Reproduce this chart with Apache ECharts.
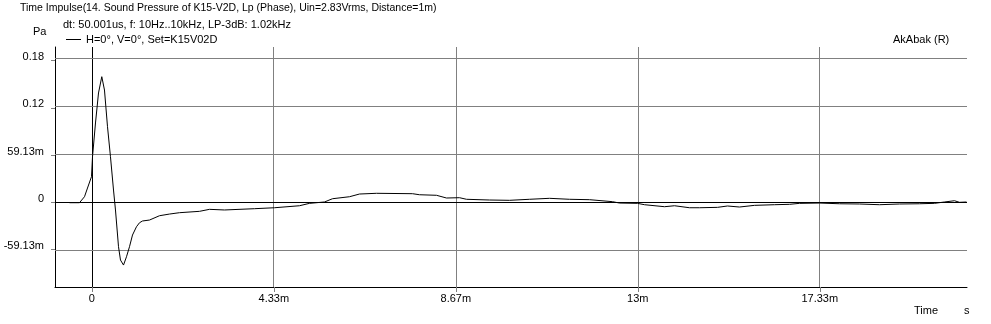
<!DOCTYPE html>
<html>
<head>
<meta charset="utf-8">
<script src="https://cdn.jsdelivr.net/npm/echarts@6/dist/echarts.min.js"></script>
<style>
html,body{margin:0;padding:0;background:#fff;}
#chart{width:991px;height:324px;}
</style>
</head>
<body>
<div id="chart"></div>
<script>
// time in milliseconds
const timeMs = [-0.531,-0.293,-0.174,-0.102,-0.007,0.017,0.088,0.160,0.238,0.262,0.302,0.374,0.445,0.517,0.564,0.636,0.683,0.755,0.826,0.898,0.969,1.064,1.136,1.207,1.374,1.612,1.850,2.088,2.564,2.802,3.160,3.874,4.350,4.945,5.183,5.540,5.731,6.136,6.374,6.779,7.636,7.802,8.207,8.445,8.755,8.921,9.469,9.945,10.421,10.898,11.374,11.850,12.398,12.564,12.993,13.160,13.636,13.874,14.231,14.469,14.898,15.136,15.421,15.779,16.255,16.612,16.850,17.326,17.802,18.279,18.755,19.231,19.707,20.064,20.302,20.540,20.660,20.826];
// sound pressure in Pa
const pressure = [-0.0005,-0.0005,0.0070,0.0179,0.0321,0.0571,0.0994,0.1370,0.1574,0.1583,0.1407,0.0947,0.0571,0.0154,-0.0096,-0.0556,-0.0723,-0.0786,-0.0682,-0.0556,-0.0410,-0.0306,-0.0256,-0.0234,-0.0222,-0.0168,-0.0147,-0.0130,-0.0113,-0.0088,-0.0096,-0.0080,-0.0068,-0.0043,-0.0013,0.0004,0.0045,0.0070,0.0104,0.0113,0.0108,0.0095,0.0088,0.0054,0.0058,0.0038,0.0029,0.0025,0.0038,0.0050,0.0038,0.0033,0.0008,-0.0009,-0.0013,-0.0030,-0.0055,-0.0043,-0.0068,-0.0068,-0.0063,-0.0046,-0.0059,-0.0038,-0.0030,-0.0025,-0.0013,-0.0009,-0.0018,-0.0021,-0.0030,-0.0021,-0.0018,-0.0013,0.0004,0.0020,0.0000,0.0004];

const xTickValues = [0, 4.3333, 8.6667, 13, 17.3333];
const xTickLabels = ['0', '4.33m', '8.67m', '13m', '17.33m'];
const yTickValues = [-0.05913, 0, 0.05913, 0.11826, 0.17739];
const yTickLabels = ['-59.13m', '0', '59.13m', '0.12', '0.18'];

const seriesName = 'H=0°, V=0°, Set=K15V02D';
const titleText = 'Time Impulse(14. Sound Pressure of K15-V2D, Lp (Phase), Uin=2.83Vrms, Distance=1m)';
const subText = 'dt: 50.001us, f: 10Hz..10kHz, LP-3dB: 1.02kHz';

const FONT = 'Liberation Sans, Arial, sans-serif';
const GRAY = '#808080';

const data = timeMs.map((t, i) => [t, pressure[i]]);

function labelFor(values, labels) {
  return function (v) {
    for (let i = 0; i < values.length; i++) {
      if (Math.abs(values[i] - v) < 1e-6) return labels[i];
    }
    return '';
  };
}

const gridLines = [];
xTickValues.forEach(v => gridLines.push({ xAxis: v, lineStyle: { color: v === 0 ? '#000' : GRAY, width: 1, type: 'solid' } }));
yTickValues.forEach(v => gridLines.push({ yAxis: v, lineStyle: { color: v === 0 ? '#000' : GRAY, width: 1, type: 'solid' } }));

const chart = echarts.init(document.getElementById('chart'), null, { renderer: 'canvas' });
chart.setOption({
  animation: false,
  backgroundColor: '#fff',
  textStyle: { fontFamily: FONT },
  title: [
    { text: titleText, left: 20, top: 2, padding: 0, textStyle: { fontFamily: FONT, fontSize: 10.5, fontWeight: 'normal', color: '#000', lineHeight: 13 } },
    { text: subText, left: 63, top: 18, padding: 0, textStyle: { fontFamily: FONT, fontSize: 11, fontWeight: 'normal', color: '#000', lineHeight: 13 } }
  ],
  graphic: [
    { type: 'line', shape: { x1: 66, y1: 39.5, x2: 81, y2: 39.5 }, style: { stroke: '#000', lineWidth: 1 } },
    { type: 'text', x: 86, y: 39.5, style: { text: seriesName, font: '11px ' + FONT, fill: '#000', verticalAlign: 'middle' } },
    { type: 'text', x: 33, y: 32, style: { text: 'Pa', font: '11px ' + FONT, fill: '#000', verticalAlign: 'middle' } },
    { type: 'text', x: 893, y: 40, style: { text: 'AkAbak (R)', font: '11px ' + FONT, fill: '#000', verticalAlign: 'middle' } },
    { type: 'text', x: 914, y: 311, style: { text: 'Time', font: '11px ' + FONT, fill: '#000', verticalAlign: 'middle' } },
    { type: 'text', x: 964, y: 311, style: { text: 's', font: '11px ' + FONT, fill: '#000', verticalAlign: 'middle' } }
  ],
  grid: { left: 55, top: 47, width: 912, height: 240, containLabel: false },
  xAxis: {
    type: 'value', min: -0.876, max: 20.838,
    axisLine: { show: true, onZero: false, lineStyle: { color: '#000', width: 1 } },
    axisTick: { show: true, customValues: xTickValues, length: 5, inside: false, lineStyle: { color: GRAY } },
    axisLabel: { customValues: xTickValues, formatter: labelFor(xTickValues, xTickLabels), margin: 6, fontSize: 11, color: '#000', fontFamily: FONT },
    splitLine: { show: false }
  },
  yAxis: {
    type: 'value', min: -0.1061, max: 0.1946,
    axisLine: { show: true, onZero: false, lineStyle: { color: '#000', width: 1 } },
    axisTick: { show: true, customValues: yTickValues, length: 4, inside: false, lineStyle: { color: GRAY } },
    axisLabel: { customValues: yTickValues, formatter: labelFor(yTickValues, yTickLabels), margin: 11, fontSize: 11, color: '#000', fontFamily: FONT, verticalAlign: 'bottom', lineHeight: 7 },
    splitLine: { show: false }
  },
  series: [{
    name: seriesName,
    type: 'line',
    data: data,
    symbol: 'none',
    z: 3,
    lineStyle: { color: '#000', width: 1 },
    itemStyle: { color: '#000' },
    markLine: {
      silent: true, symbol: ['none', 'none'], z: 1,
      label: { show: false },
      emphasis: { disabled: true },
      data: gridLines
    }
  }]
});
</script>
</body>
</html>
